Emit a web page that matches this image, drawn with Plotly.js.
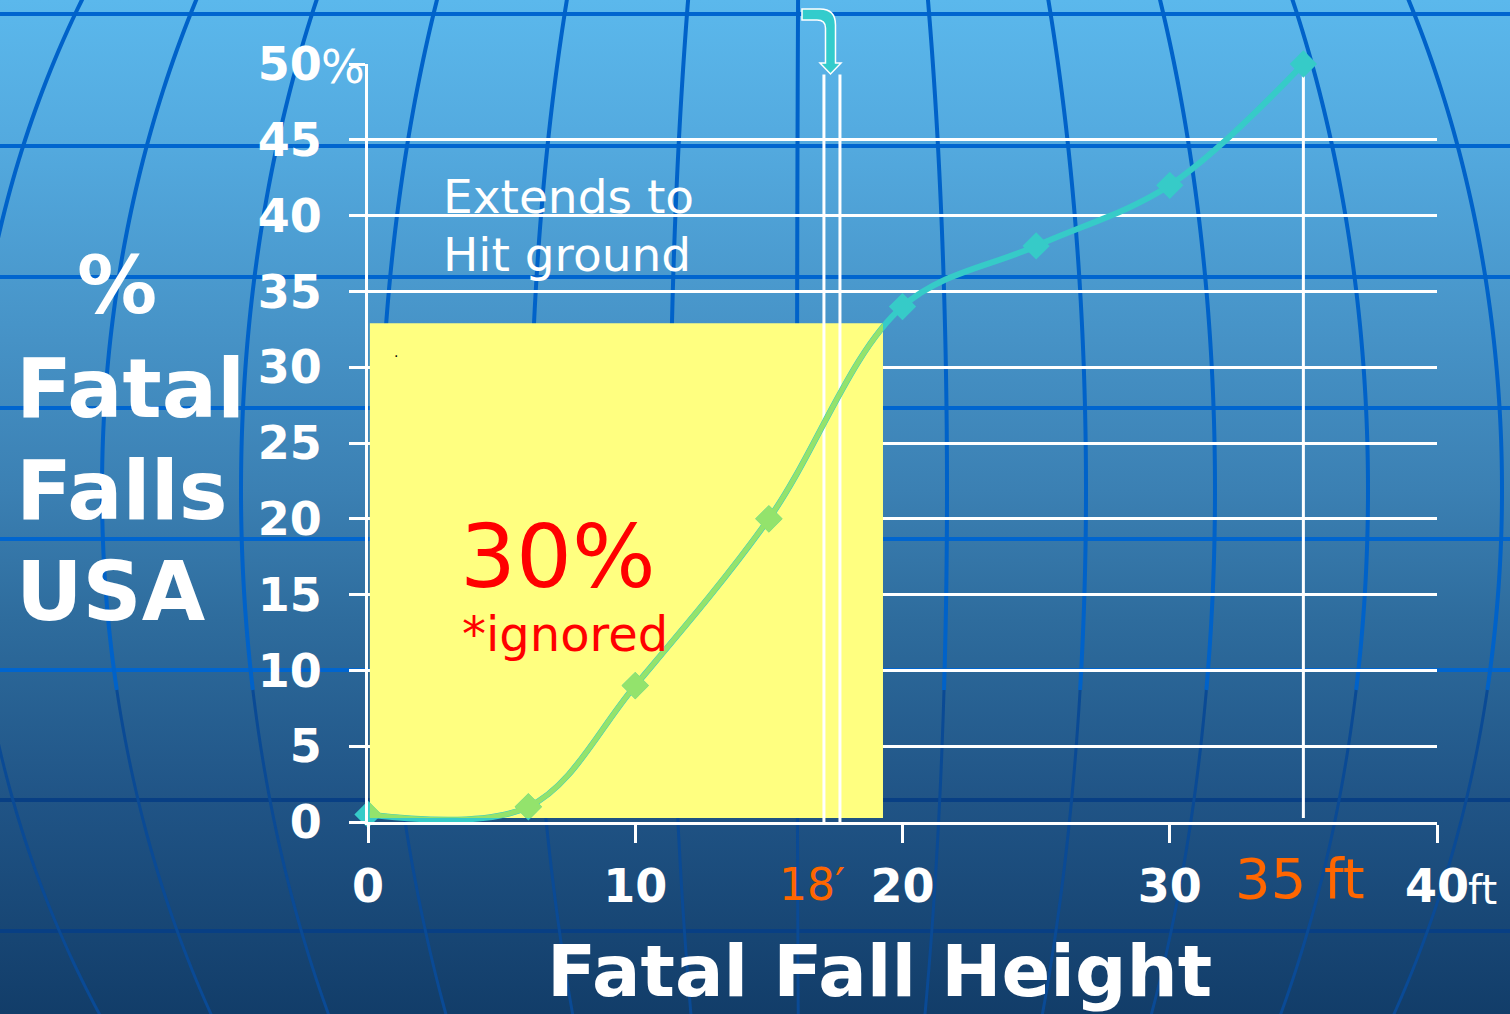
<!DOCTYPE html>
<html><head><meta charset="utf-8">
<script src="https://cdn.plot.ly/plotly-3.0.1.min.js"></script>
<style>
html,body{margin:0;padding:0;width:1510px;height:1014px;overflow:hidden;
background:linear-gradient(to bottom,#5bb8ec 0px,#53a9de 150px,#4692c6 340px,#3b80b3 490px,#2e6c9d 620px,#205486 800px,#123d69 1014px);}
#chart{width:1510px;height:1014px;}
</style></head><body><div id="chart"></div>
<script>
// ---- data ----
const heightsFt = [0, 6, 10, 15, 20, 25, 30, 35];
const fatalPct  = [0.5, 1, 9, 20, 34, 38, 42, 50];
const yTickVals = [0, 5, 10, 15, 20, 25, 30, 35, 40, 45, 50];
const yTickText = ['0', '5', '10', '15', '20', '25', '30', '35', '40', '45', '50'];
const xTickVals = [0, 10, 20, 30, 40];
const xTickText = ['0', '10', '20', '30', '40'];

// ---- geometry helpers (plot area in px) ----
const L = 368, R = 1437, T = 64, B = 822;
const W = R - L, H = B - T;
const px = v => (v - L) / W;
const py = v => (B - v) / H;

// highlighted region (data units)
const rectX = [0.07, 19.27], rectY = [0.26, 32.9];

const FONT = 'DejaVu Sans';
const shapes = [];

// globe background grid
const parallels = [14, 146, 277, 408, 539, 670, 800, 931];
parallels.forEach(yv => {
  shapes.push({type: 'line', xref: 'paper', yref: 'paper', layer: 'below',
    x0: px(-20), x1: px(1530), y0: py(yv), y1: py(yv),
    line: {color: yv > 700 ? '#083f84' : '#0065cf', width: 4}});
});
const meridians = [-835, -703, -564, -425, -275, -135, -8, 142, 281, 410, 563, 697];
const gf = y => Math.sqrt(1 - Math.pow((y - 490) / 980, 2));
function seg(m, y0, y1) {
  let s = '';
  for (let y = y0; y <= y1 + 0.1; y += 10) {
    const xv = 805 + m * gf(y);
    s += (s ? ' L ' : 'M ') + px(xv).toFixed(5) + ',' + py(y).toFixed(5);
  }
  return s;
}
meridians.forEach(m => {
  shapes.push({type: 'path', xref: 'paper', yref: 'paper', layer: 'below',
    path: seg(m, -10, 690), line: {color: '#0062c9', width: 4}});
  shapes.push({type: 'path', xref: 'paper', yref: 'paper', layer: 'below',
    path: seg(m, 690, 1030), line: {color: '#0a4a95', width: 3}});
});

// yellow box
shapes.push({type: 'rect', xref: 'x', yref: 'y', layer: 'between',
  x0: rectX[0], x1: rectX[1], y0: rectY[0], y1: rectY[1],
  fillcolor: '#ffff80', line: {width: 0}});
// white marker lines
[17.06, 17.66].forEach(xv => shapes.push({type: 'line', xref: 'x', yref: 'y', layer: 'between',
  x0: xv, x1: xv, y0: 0, y1: 49.3, line: {color: 'white', width: 3}}));
shapes.push({type: 'line', xref: 'x', yref: 'y', layer: 'between',
  x0: 35, x1: 35, y0: 0.26, y1: 50, line: {color: 'white', width: 3}});
// bent arrow
function P(x, y) { return px(x).toFixed(5) + ',' + py(y).toFixed(5); }
shapes.push({type: 'path', xref: 'paper', yref: 'paper', layer: 'above',
  path: 'M ' + P(802, 9) + ' L ' + P(820, 9) + ' Q ' + P(835.5, 9) + ' ' + P(835.5, 25) +
        ' L ' + P(835.5, 63) + ' L ' + P(841, 63) + ' L ' + P(830.5, 74) + ' L ' + P(820, 63) +
        ' L ' + P(825.5, 63) + ' L ' + P(825.5, 28) + ' Q ' + P(825.5, 20) + ' ' + P(817, 20) +
        ' L ' + P(802, 20) + ' Z',
  fillcolor: '#33cccc', line: {color: 'white', width: 1.5}});

// ---- annotations ----
function ann(text, xPx, yPx, size, color, opts) {
  return Object.assign({text: text, xref: 'paper', yref: 'paper', x: px(xPx), y: py(yPx),
    xanchor: 'left', yanchor: 'middle', showarrow: false,
    font: {family: FONT, size: size, color: color}}, opts || {});
}
const bold = (s) => ({family: FONT, size: s, color: 'white', weight: 'bold'});
const annotations = [
  ann('%', 117, 285, 80, 'white', {xanchor: 'center', font: bold(80)}),
  ann('Fatal', 14, 388, 82, 'white', {font: bold(82)}),
  ann('Falls', 14, 490, 82, 'white', {font: bold(82)}),
  ann('USA', 14, 591, 82, 'white', {font: bold(82)}),
  ann('Fatal Fall Height', 879, 971, 72, 'white', {xanchor: 'center', font: bold(72)}),
  ann('Extends to', 441, 196, 47, 'white'),
  ann('Hit ground', 441, 254, 47, 'white'),
  ann('30%', 458, 556, 88, '#ff0000'),
  ann('*ignored', 460, 634, 48, '#ff0000'),
  ann('18\u2032', 777, 884, 44, '#ff6600'),
  ann('35 ft', 1233, 879, 56, '#ff6600'),
  ann('ft', 1466, 890, 40, 'white'),
  ann('%', 319, 67, 46, 'white'),
  ann('.', 392, 352, 14, 'black')
];

const tickFont = {family: FONT, size: 46, color: 'white', weight: 'bold'};

const traces = [
  {x: heightsFt, y: fatalPct, xaxis: 'x', yaxis: 'y', type: 'scatter', mode: 'lines+markers',
   cliponaxis: false,
   line: {color: '#36cbc8', width: 6, shape: 'spline'},
   marker: {symbol: 'diamond', size: 21, color: '#36cbc8'}, hoverinfo: 'x+y'},
  {x: heightsFt, y: fatalPct, xaxis: 'x2', yaxis: 'y2', type: 'scatter', mode: 'lines+markers',
   cliponaxis: true,
   line: {color: '#93e36c', width: 5, shape: 'spline'},
   marker: {symbol: 'diamond', size: 21, color: '#93e36c'}, hoverinfo: 'x+y'}
];

const layout = {
  width: 1510, height: 1014,
  margin: {l: L, r: 1510 - R, t: T, b: 1014 - B, pad: 0},
  paper_bgcolor: 'rgba(0,0,0,0)', plot_bgcolor: 'rgba(0,0,0,0)',
  showlegend: false,
  xaxis: {range: [0, 40], autorange: false, domain: [0, 1],
    showgrid: false, zeroline: false, showline: true, linecolor: 'white', linewidth: 3,
    ticks: 'outside', ticklen: 18, tickwidth: 3, tickcolor: 'white',
    tickvals: xTickVals, ticktext: xTickText, tickfont: tickFont, ticklabelstandoff: 4},
  yaxis: {range: [0, 50], autorange: false, domain: [0, 1],
    showgrid: true, gridcolor: 'white', gridwidth: 3, zeroline: false,
    showline: true, linecolor: 'white', linewidth: 3,
    ticks: 'outside', ticklen: 16, tickwidth: 3, tickcolor: 'white',
    tickvals: yTickVals, ticktext: yTickText, tickfont: tickFont, ticklabelstandoff: 18},
  xaxis2: {domain: [rectX[0] / 40, rectX[1] / 40], range: rectX, autorange: false, anchor: 'y2',
    visible: false, showgrid: false, zeroline: false},
  yaxis2: {domain: [rectY[0] / 50, rectY[1] / 50], range: rectY, autorange: false, anchor: 'x2',
    visible: false, showgrid: false, zeroline: false},
  shapes: shapes,
  annotations: annotations
};

Plotly.newPlot('chart', traces, layout, {staticPlot: true, displayModeBar: false});
</script></body></html>
